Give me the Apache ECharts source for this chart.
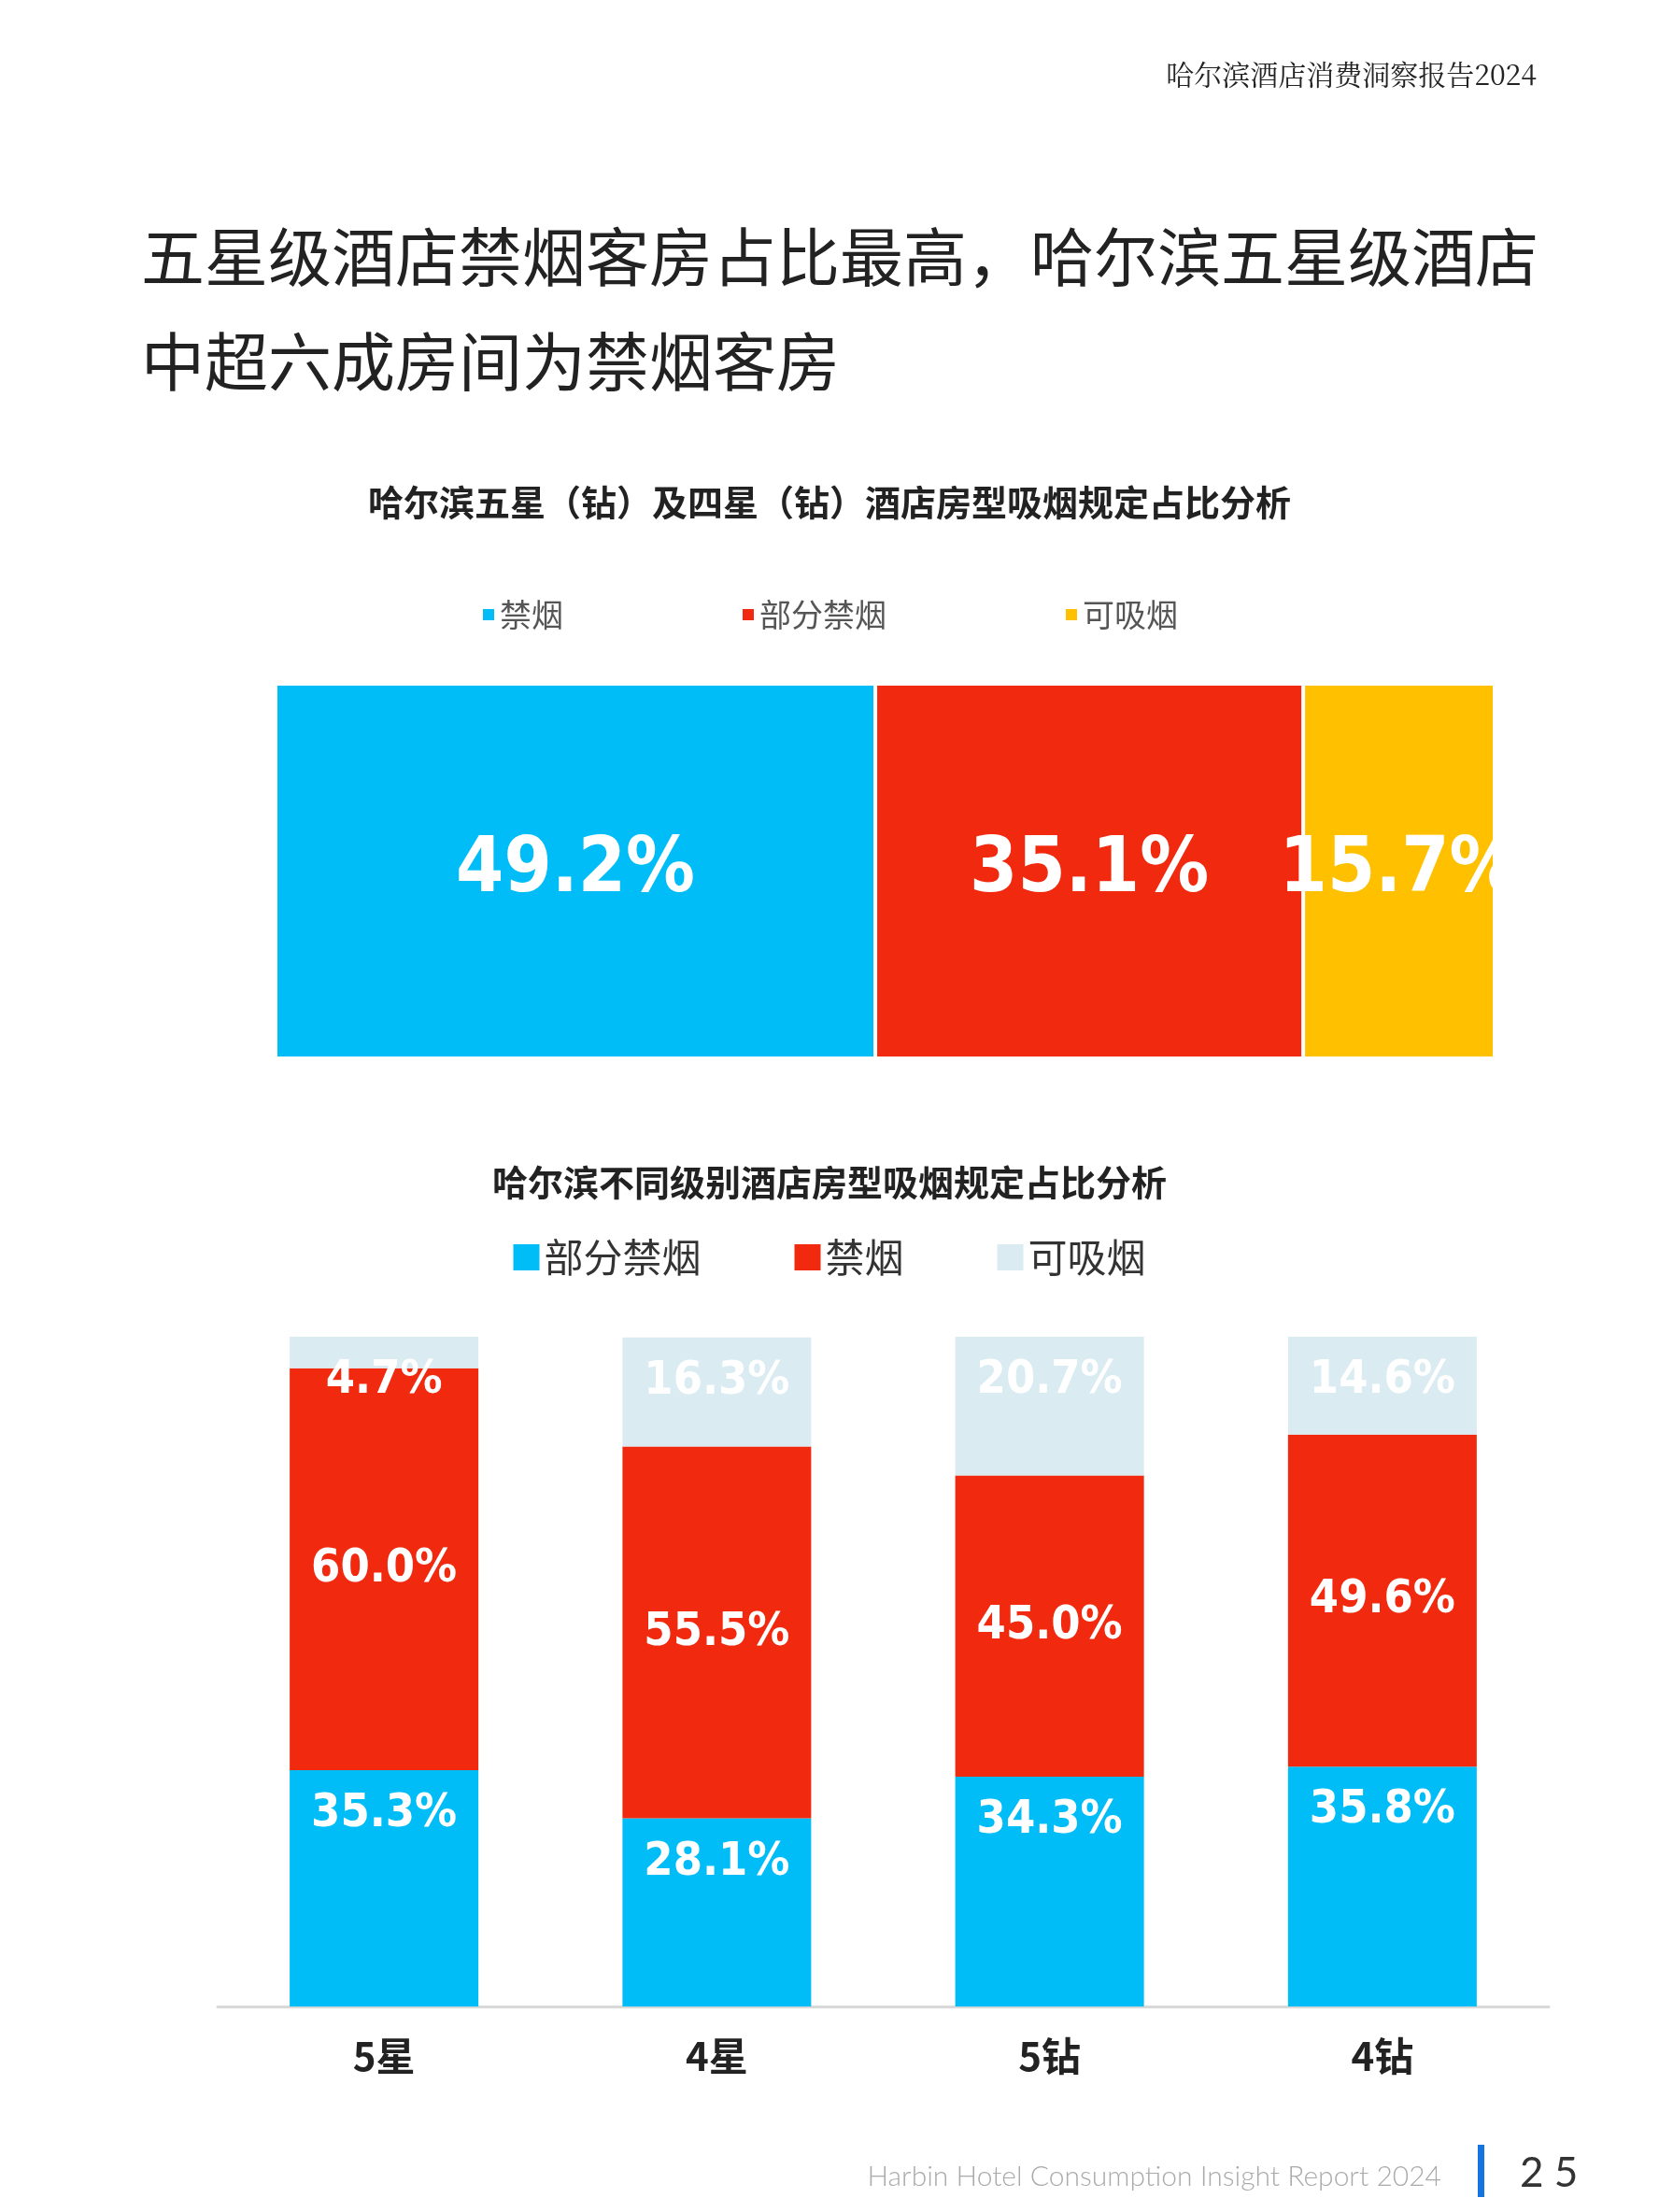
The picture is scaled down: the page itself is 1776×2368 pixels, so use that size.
<!DOCTYPE html>
<html>
<head>
<meta charset="utf-8">
<script src="https://cdn.jsdelivr.net/npm/echarts@6/dist/echarts.min.js"></script>
<style>
  body { margin: 0; background: #fff; }
  #top { position: absolute; left: 0; top: 0; width: 1776px; height: 1190px; }
  #bottom { position: absolute; left: 0; top: 1190px; width: 1776px; height: 1178px; }
</style>
</head>
<body>
<div id="top"></div>
<div id="bottom"></div>
<script>
var FONT = '"Noto Sans CJK SC", "Noto Sans", sans-serif';
var NUM_FONT = '"DejaVu Sans Condensed", "Liberation Sans", sans-serif';

// chart 1: overall share
var overallNames = ['禁烟', '部分禁烟', '可吸烟'];
var overallValues = [49.2, 35.1, 15.7];
var overallColors = ['#00bdf8', '#f0290f', '#ffc000'];

// chart 2: by hotel grade
var grades = ['5星', '4星', '5钻', '4钻'];
var gradeNames = ['部分禁烟', '禁烟', '可吸烟'];
var partialNoSmoke = [35.3, 28.1, 34.3, 35.8];
var noSmoke = [60.0, 55.5, 45.0, 49.6];
var smoking = [4.7, 16.3, 20.7, 14.6];
var gradeColors = ['#00bdf8', '#f0290f', '#daebf1'];

var topChart = echarts.init(document.getElementById('top'));
topChart.setOption({
  animation: false,
  title: [{
    text: '哈尔滨酒店消费洞察报告2024',
    right: 126, top: 60,
    textStyle: { fontFamily: '"Noto Serif CJK SC", ' + FONT, fontSize: 30, fontWeight: 'normal', color: '#222' }
  }, {
    text: '五星级酒店禁烟客房占比最高，哈尔滨五星级酒店\n中超六成房间为禁烟客房',
    left: 146, top: 214,
    textStyle: { fontFamily: FONT, fontSize: 68, fontWeight: 'normal', color: '#222', lineHeight: 112 }
  }, {
    text: '哈尔滨五星（钻）及四星（钻）酒店房型吸烟规定占比分析',
    left: 'center', top: 514,
    textStyle: { fontFamily: FONT, fontSize: 38, fontWeight: 'bold', color: '#222' }
  }],
  legend: {
    top: 636, left: 'center', itemGap: 190,
    itemWidth: 14, itemHeight: 14, icon: 'rect',
    textStyle: { fontFamily: FONT, fontSize: 34, color: '#555' },
    data: overallNames
  },
  grid: { left: 295, right: 176, top: 732, height: 401 },
  xAxis: { type: 'value', min: 0, max: 100, show: false },
  yAxis: { type: 'category', data: ['all'], show: false },
  series: overallNames.map(function (n, i) {
    return {
      name: n, type: 'bar', stack: 'a', barWidth: '100%',
      itemStyle: { color: overallColors[i], borderColor: '#fff', borderWidth: 2 },
      label: {
        show: true, position: 'inside', color: '#fff',
        fontFamily: NUM_FONT, fontSize: 82, fontWeight: 'bold',
        formatter: function (p) { return p.value.toFixed(1) + '%'; }
      },
      data: [overallValues[i]]
    };
  })
});

var bottomChart = echarts.init(document.getElementById('bottom'));
var gradeData = [partialNoSmoke, noSmoke, smoking];
bottomChart.setOption({
  animation: false,
  title: [{
    text: '哈尔滨不同级别酒店房型吸烟规定占比分析',
    left: 'center', top: 52,
    textStyle: { fontFamily: FONT, fontSize: 38, fontWeight: 'bold', color: '#222' }
  }, {
    text: 'Harbin Hotel Consumption Insight Report 2024',
    right: 228, top: 1120,
    textStyle: { fontFamily: 'Lato, "Noto Sans", sans-serif', fontSize: 30, fontWeight: 300, color: '#aaa' }
  }, {
    text: '2 5',
    left: 1622, top: 1110,
    textStyle: { fontFamily: 'Lato, "Noto Sans", sans-serif', fontSize: 44, fontWeight: 'normal', color: '#333' }
  }],
  graphic: [{
    type: 'rect', left: 1582, top: 1106, shape: { width: 7, height: 56 }, style: { fill: '#1474e0' }
  }],
  legend: {
    top: 130, left: 'center', itemGap: 100,
    itemWidth: 28, itemHeight: 28, icon: 'rect',
    textStyle: { fontFamily: FONT, fontSize: 42, color: '#333' },
    data: gradeNames
  },
  grid: { left: 233, right: 118, top: 241, bottom: 1178 - 958 },
  xAxis: {
    type: 'category', data: grades,
    axisLine: { lineStyle: { color: '#d9d9d9', width: 3 } },
    axisTick: { show: false },
    axisLabel: { fontFamily: FONT, fontSize: 42, fontWeight: 'bold', color: '#222', margin: 32 }
  },
  yAxis: { type: 'value', min: 0, max: 100, show: false, splitLine: { show: false } },
  series: gradeNames.map(function (n, i) {
    return {
      name: n, type: 'bar', stack: 'g', barWidth: 202,
      itemStyle: { color: gradeColors[i] },
      label: {
        show: true, position: i === 1 ? 'inside' : 'insideTop', distance: 22,
        color: '#fff', fontFamily: NUM_FONT, fontSize: 50, fontWeight: 'bold',
        formatter: function (p) { return p.value.toFixed(1) + '%'; }
      },
      data: gradeData[i]
    };
  })
});
</script>
</body>
</html>
